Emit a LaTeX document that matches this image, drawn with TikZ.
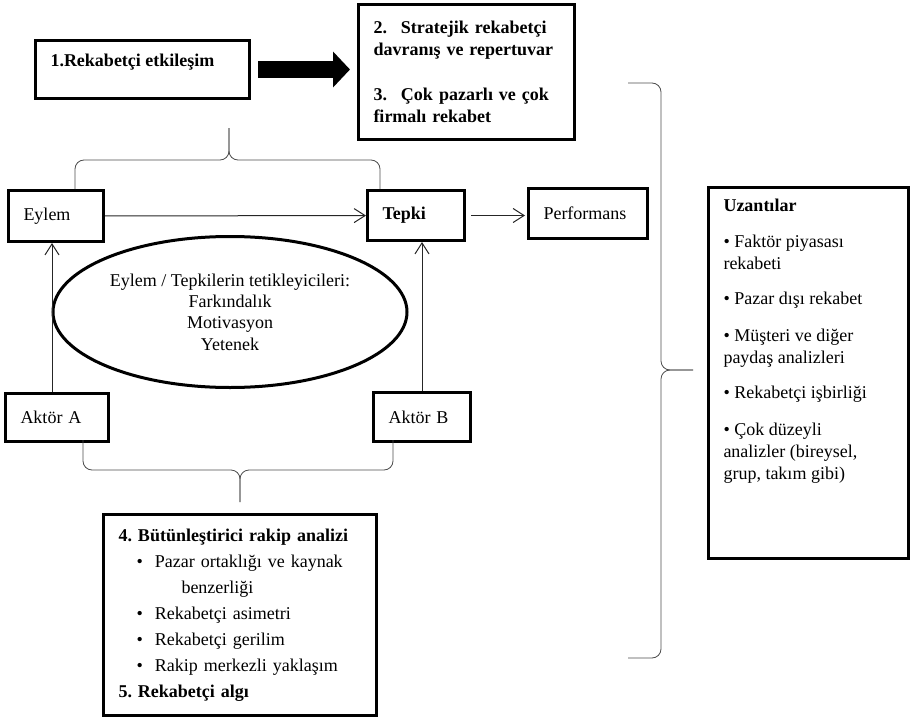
\documentclass[tikz,border=0pt]{standalone}
\usepackage{fontspec}
\setmainfont{Liberation Serif}
\frenchspacing
\usepackage{tikz}
\usetikzlibrary{arrows.meta,shapes.geometric}
\tikzstyle{box_t} = [rectangle, draw=black, line width=3pt, anchor=north west, inner xsep=15pt, inner ysep=0pt, align=left]
\tikzstyle{elps} = [ellipse, draw=black, line width=3pt, align=center, inner sep=0pt]
\tikzstyle{arr_t} = [->, draw=black!85, line width=1pt]
\tikzstyle{arr_b} = [-{Triangle[length=17pt,width=35pt]}, line width=17pt]
\tikzstyle{brc} = [draw=black!70, line width=0.8pt, rounded corners=9pt]

\begin{document}
\begin{tikzpicture}[x=1pt,y=-1pt,>={Straight Barb[length=11pt,width=14pt]},
font=\fontsize{18}{22}\selectfont]
\useasboundingbox (0,0) rectangle (916,720);
\node [box_t, minimum width=214, minimum height=58] (rek) at (34,39)
    {\parbox[c][30pt][t]{184pt}{\bfseries 1.Rekabetçi etkileşim}};
\node [box_t, minimum width=216, minimum height=135, text width=186, font=\fontsize{18}{22.5}\selectfont\bfseries] (strat) at (357,3)
    {2.\hspace{14pt}Stratejik rekabetçi\\ davranış ve repertuvar\\[22pt]
     3.\hspace{14pt}Çok pazarlı ve çok\\ firmalı rekabet};
\node [box_t, minimum width=95, minimum height=51, text width=65] (eylem) at (7,189) {Eylem};
\node [box_t, minimum width=97, minimum height=50, text width=67] (tepki) at (366,189) {\textbf{Tepki}};
\node [box_t, minimum width=119, minimum height=50, text width=89] (perf) at (527,187) {Performans};
\node [box_t, minimum width=103, minimum height=48, text width=73] (aktorA) at (4,392) {Aktör A};
\node [box_t, minimum width=97, minimum height=49, text width=67] (aktorB) at (372,391) {Aktör B};
\node [elps, minimum width=354, minimum height=151, font=\fontsize{18}{21.3}\selectfont] (tetik) at (230,312)
    {Eylem / Tepkilerin tetikleyicileri:\\ Farkındalık\\ Motivasyon\\ Yetenek};
\node [box_t, minimum width=273, minimum height=201, text width=243, font=\fontsize{18}{26}\selectfont] (rakip) at (102,513)
    {\textbf{4. Bütünleştirici rakip analizi}\\
     \hspace*{18pt}\textbullet\hspace{12pt}Pazar ortaklığı ve kaynak\\
     \hspace*{63pt}benzerliği\\
     \hspace*{18pt}\textbullet\hspace{12pt}Rekabetçi asimetri\\
     \hspace*{18pt}\textbullet\hspace{12pt}Rekabetçi gerilim\\
     \hspace*{18pt}\textbullet\hspace{12pt}Rakip merkezli yaklaşım\\
     \textbf{5. Rekabetçi algı}};
\node [box_t, minimum width=200, minimum height=371] (uzan) at (707,186)
    {\parbox[c][347pt][t]{170pt}{\raggedright \textbf{Uzantılar}\\[14pt]
     \textbullet{} Faktör piyasası\\ rekabeti\\[13pt]
     \textbullet{} Pazar dışı rekabet\\[15pt]
     \textbullet{} Müşteri ve diğer\\ paydaş analizleri\\[13pt]
     \textbullet{} Rekabetçi işbirliği\\[15pt]
     \textbullet{} Çok düzeyli\\ analizler (bireysel,\\ grup, takım gibi)}};

\draw [arr_b, shorten <=7pt, shorten >=7pt] (rek.east) -- (rek.east -| strat.west);
\draw [arr_t] (eylem) -- (tepki);
\draw [arr_t, shorten <=5pt, shorten >=2pt] (tepki.east) -- (tepki.east -| perf.west);
\draw [arr_t] ([xshift=-5pt]aktorA.north) -- ([xshift=-5pt]aktorA.north |- eylem.south);
\draw [arr_t] (aktorB.north) -- (aktorB.north |- tepki.south);

\coordinate (br_top) at (229,128);
\coordinate (br_bot) at (240,502);
\coordinate (br_rgt) at (693,370);
\draw [brc] (75,189) |- (229,160) -- (br_top);
\draw [brc] (380,189) |- (229,160) -- (br_top);
\draw [brc] (83,440) |- (240,470) -- (br_bot);
\draw [brc] (393,440) |- (240,470) -- (br_bot);
\draw [brc] (628,83) -| (661,370) -- (br_rgt);
\draw [brc] (628,658) -| (661,370) -- (br_rgt);
\end{tikzpicture}
\end{document}
